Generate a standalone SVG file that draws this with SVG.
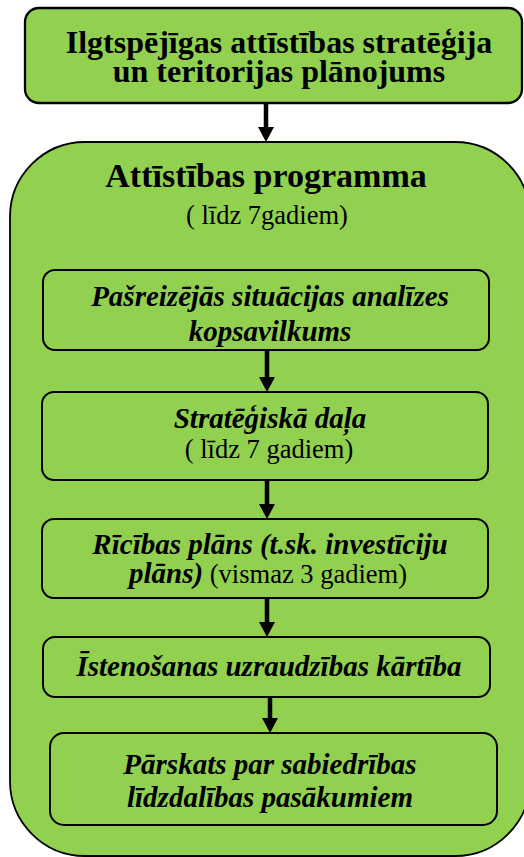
<svg xmlns="http://www.w3.org/2000/svg" width="524" height="857" viewBox="0 0 524 857">
<defs>
<style>
.box{fill:#92D050;stroke:#000;stroke-width:2}
.t{font-family:"Liberation Serif","Times New Roman",serif;fill:#000;text-anchor:middle}
.b{font-weight:bold}
.bi{font-weight:bold;font-style:italic;font-size:29px}
.r{font-weight:normal;font-style:normal;font-size:26.5px}
.conn{stroke:#000;stroke-width:4.5;fill:none}
</style>
<marker id="ah" markerWidth="15" markerHeight="16" refX="1" refY="8" orient="auto" markerUnits="userSpaceOnUse">
<path d="M0,0 L15,8 L0,16 Z" fill="#000"/>
</marker>
</defs>
<rect width="524" height="857" fill="#fff"/>
<g id="node-strategy">
<rect class="box" x="25" y="8" width="497" height="95" rx="14" style="stroke-width:2.3"/>
<text class="t b" x="279" y="53" font-size="32">Ilgtspējīgas attīstības stratēģija</text>
<text class="t b" x="279" y="82" font-size="32">un teritorijas plānojums</text>
</g>
<g id="node-program">
<rect class="box" x="10" y="142" width="520" height="714" rx="75" style="stroke-width:1.8"/>
<text class="t b" x="266" y="187" font-size="34">Attīstības programma</text>
<text class="t r" x="267" y="224">( līdz 7gadiem)</text>
</g>
<g id="node-analysis">
<rect class="box" x="43" y="270" width="446" height="80" rx="12"/>
<text class="t bi" x="270" y="306">Pašreizējās situācijas analīzes</text>
<text class="t bi" x="270" y="341">kopsavilkums</text>
</g>
<g id="node-strategic">
<rect class="box" x="42" y="392" width="446" height="88" rx="12"/>
<text class="t bi" x="270" y="428">Stratēģiskā daļa</text>
<text class="t r" x="269" y="458">( līdz 7 gadiem)</text>
</g>
<g id="node-action">
<rect class="box" x="42" y="519" width="446" height="79" rx="12"/>
<text class="t bi" x="270" y="554">Rīcības plāns (t.sk. investīciju</text>
<text class="t" x="268" y="583"><tspan class="bi">plāns)</tspan><tspan class="r"> (vismaz 3 gadiem)</tspan></text>
</g>
<g id="node-monitoring">
<rect class="box" x="43" y="637" width="447" height="60" rx="12"/>
<text class="t bi" x="269" y="676">Īstenošanas uzraudzības kārtība</text>
</g>
<g id="node-report">
<rect class="box" x="50" y="733" width="447" height="92" rx="14"/>
<text class="t bi" x="270" y="774">Pārskats par sabiedrības</text>
<text class="t bi" x="270" y="807">līdzdalības pasākumiem</text>
</g>
<g id="connectors">
<line class="conn" x1="266" y1="103" x2="266" y2="128" marker-end="url(#ah)"/>
<line class="conn" x1="267" y1="350" x2="267" y2="378" marker-end="url(#ah)"/>
<line class="conn" x1="267" y1="480" x2="267" y2="505" marker-end="url(#ah)"/>
<line class="conn" x1="267" y1="598" x2="267" y2="623" marker-end="url(#ah)"/>
<line class="conn" x1="270" y1="697" x2="270" y2="719" marker-end="url(#ah)"/>
</g>
</svg>
